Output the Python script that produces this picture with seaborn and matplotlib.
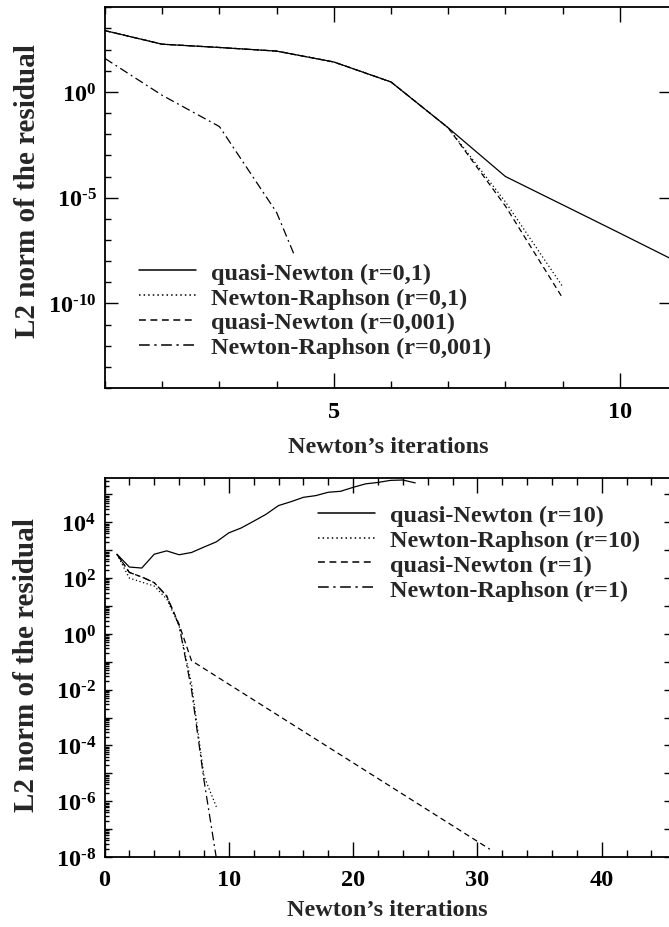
import numpy as np
import pandas as pd
import seaborn as sns
import matplotlib
matplotlib.use("Agg")
import matplotlib.pyplot as plt
from matplotlib.ticker import FixedLocator, FuncFormatter, NullFormatter, LogLocator

# ---------------- data ----------------
# Top panel
it_qn_r01 = [1, 2, 3, 4, 5, 6, 7, 8, 9, 10, 11]
qn_r01 = [7.9e2, 1.8e2, 1.26e2, 8.5e1, 2.6e1, 2.95e0, 2.0e-2, 1.0e-4, 4.6e-6, 2.1e-7, 9.3e-9]
it_nr_r01 = [1, 2, 3, 4, 5, 6, 7, 8, 9]
nr_r01 = [7.9e2, 1.8e2, 1.26e2, 8.5e1, 2.6e1, 2.95e0, 2.0e-2, 6.3e-6, 6.3e-10]
it_qn_r0001 = [1, 2, 3, 4, 5, 6, 7, 8, 9]
qn_r0001 = [7.9e2, 1.8e2, 1.26e2, 8.5e1, 2.6e1, 2.95e0, 2.0e-2, 4.0e-6, 1.8e-10]
it_nr_r0001 = [1, 2, 3, 4, 5]
nr_r0001 = [3.8e1, 6.9e-1, 2.3e-2, 2.0e-6, 6.3e-13]

# Bottom panel
it_qn_r10 = list(range(1, 26))
qn_r10 = [7.2e2, 2.5e2, 2.3e2, 7.2e2, 9.5e2, 6.9e2, 8.3e2, 1.3e3, 2.0e3, 4.2e3,
          6.3e3, 1.1e4, 1.95e4, 4.0e4, 5.5e4, 7.9e4, 9.1e4, 1.2e5, 1.3e5, 1.8e5,
          2.4e5, 2.7e5, 3.2e5, 3.3e5, 2.6e5]
it_nr_r10 = [1, 2, 3, 4, 5, 6, 7, 8, 9]
nr_r10 = [7.2e2, 1.0e2, 7.2e1, 5.2e1, 1.8e1, 2.0e0, 1.6e-2, 8.0e-6, 6.3e-7]
it_qn_r1 = [1, 2, 3, 4, 5, 6, 7, 31]
qn_r1 = [7.2e2, 1.6e2, 1.1e2, 6.9e1, 2.3e1, 2.2e0, 1.1e-1, 1.9e-8]
it_nr_r1 = [1, 2, 3, 4, 5, 6, 7, 8, 9]
nr_r1 = [7.2e2, 1.6e2, 1.1e2, 6.9e1, 2.3e1, 2.0e0, 1.0e-2, 5.8e-6, 9.0e-9]

top_labels = ["quasi-Newton (r=0,1)", "Newton-Raphson (r=0,1)",
              "quasi-Newton (r=0,001)", "Newton-Raphson (r=0,001)"]
bot_labels = ["quasi-Newton (r=10)", "Newton-Raphson (r=10)",
              "quasi-Newton (r=1)", "Newton-Raphson (r=1)"]
xlabel = "Newton\u2019s iterations"
ylabel = "L2 norm of the residual"

# ---------------- style ----------------
sns.set_theme(style="ticks")
plt.rcParams["font.family"] = ["Liberation Serif", "DejaVu Serif"]
plt.rcParams["font.weight"] = "bold"
plt.rcParams["mathtext.fontset"] = "custom"
plt.rcParams["mathtext.rm"] = "Liberation Serif:bold"
plt.rcParams["mathtext.bf"] = "Liberation Serif:bold"
plt.rcParams["mathtext.it"] = "Liberation Serif:bold"
plt.rcParams["axes.linewidth"] = 1.3

FS = 17.5
FS_Y = 21
styles = ["-", (0, (1, 2)), (0, (4.5, 3)), (0, (7, 3, 1.5, 3))]
LW = 0.9

fig = plt.figure(figsize=(6.69, 9.28), dpi=100)
ax1 = fig.add_axes([105 / 669, 1 - 389 / 928, 566 / 669, 380.7 / 928])
ax2 = fig.add_axes([104.5 / 669, 1 - 858 / 928, 566.5 / 669, 378.7 / 928])


def draw(ax, series, labels):
    for (xs, ys), lab, ls in zip(series, labels, styles):
        df = pd.DataFrame({"it": xs, "res": ys})
        sns.lineplot(data=df, x="it", y="res", ax=ax, color="black",
                     linewidth=LW, linestyle=ls, label=lab, sort=False)
    ax.set_yscale("log")


def expfmt(v, p):
    e = int(round(np.log10(v)))
    s = str(abs(e))
    if e < 0:
        s = "\u2010" + s
    return r"$\mathbf{10^{%s}}$" % s


draw(ax1, [(it_qn_r01, qn_r01), (it_nr_r01, nr_r01),
           (it_qn_r0001, qn_r0001), (it_nr_r0001, nr_r0001)], top_labels)
draw(ax2, [(it_qn_r10, qn_r10), (it_nr_r10, nr_r10),
           (it_qn_r1, qn_r1), (it_nr_r1, nr_r1)], bot_labels)

# ---- top axes ----
ax1.set_xlim(1, 1 + 566 / 57.2)
ax1.set_ylim(1e-14, 1e4)
ax1.xaxis.set_major_locator(FixedLocator([5, 10]))
ax1.xaxis.set_minor_locator(FixedLocator(list(range(1, 12))))
ax1.yaxis.set_major_locator(FixedLocator([1e-10, 1e-5, 1e0]))
ax1.yaxis.set_minor_locator(FixedLocator([10.0 ** k for k in range(-14, 5)]))
ax1.yaxis.set_major_formatter(FuncFormatter(expfmt))
ax1.yaxis.set_minor_formatter(NullFormatter())

# ---- bottom axes ----
ax2.set_xlim(0, 566.5 / 12.43)
ax2.set_ylim(1e-8, 3.8e5)
ax2.xaxis.set_major_locator(FixedLocator([0, 10, 20, 30, 40]))
ax2.xaxis.set_minor_locator(FixedLocator(list(range(0, 47, 2))))
ax2.yaxis.set_major_locator(FixedLocator([10.0 ** k for k in range(-8, 6)]))
ax2.yaxis.set_minor_locator(LogLocator(base=10, subs=np.arange(2, 10), numticks=30))
ax2.yaxis.set_major_formatter(FuncFormatter(
    lambda v, p: expfmt(v, p) if int(round(np.log10(v))) % 2 == 0 else ""))
ax2.yaxis.set_minor_formatter(NullFormatter())

for ax, ymaj in [(ax1, 9), (ax2, 5)]:
    ax.tick_params(which="both", direction="in", top=True, right=True,
                   labelsize=FS, width=1.0, colors="black")
    ax.tick_params(axis="x", which="major", length=11, pad=9)
    ax.tick_params(axis="x", which="minor", length=5)
    ax.tick_params(axis="y", which="major", length=ymaj, pad=6)
    ax.tick_params(axis="y", which="minor", length=4, right=False)
    for lab in ax.get_xticklabels() + ax.get_yticklabels():
        lab.set_fontweight("bold")
    ax.set_xlabel(xlabel, fontsize=FS, fontweight="bold")
    ax.set_ylabel(ylabel, fontsize=FS_Y, fontweight="bold")
    for s in ax.spines.values():
        s.set_color("black")
    ax.grid(False)

ax2.tick_params(axis="y", which="minor", length=3)

ax1.xaxis.set_label_coords(0.5, -0.125)
ax2.xaxis.set_label_coords(0.5, -0.11)
ax1.yaxis.set_label_coords(-0.113, 0.52)
ax2.yaxis.set_label_coords(-0.113, 0.51)

leg_kw = dict(frameon=True, framealpha=1.0, edgecolor="none",
              facecolor="white", fancybox=False, handlelength=2.35,
              handletextpad=0.6, labelspacing=0.12, borderpad=0.3,
              borderaxespad=0.0, loc="center left",
              bbox_transform=fig.transFigure,
              prop={"family": "Liberation Serif", "weight": "bold", "size": FS})
l1 = ax1.legend(bbox_to_anchor=((139 - 7) / 669, 1 - 311 / 928), **leg_kw)
l2 = ax2.legend(bbox_to_anchor=((318 - 7) / 669, 1 - 553.5 / 928), **leg_kw)
for leg in (l1, l2):
    for h in leg.get_lines():
        h.set_linewidth(1.1)

fig.savefig("out.png", dpi=100)
